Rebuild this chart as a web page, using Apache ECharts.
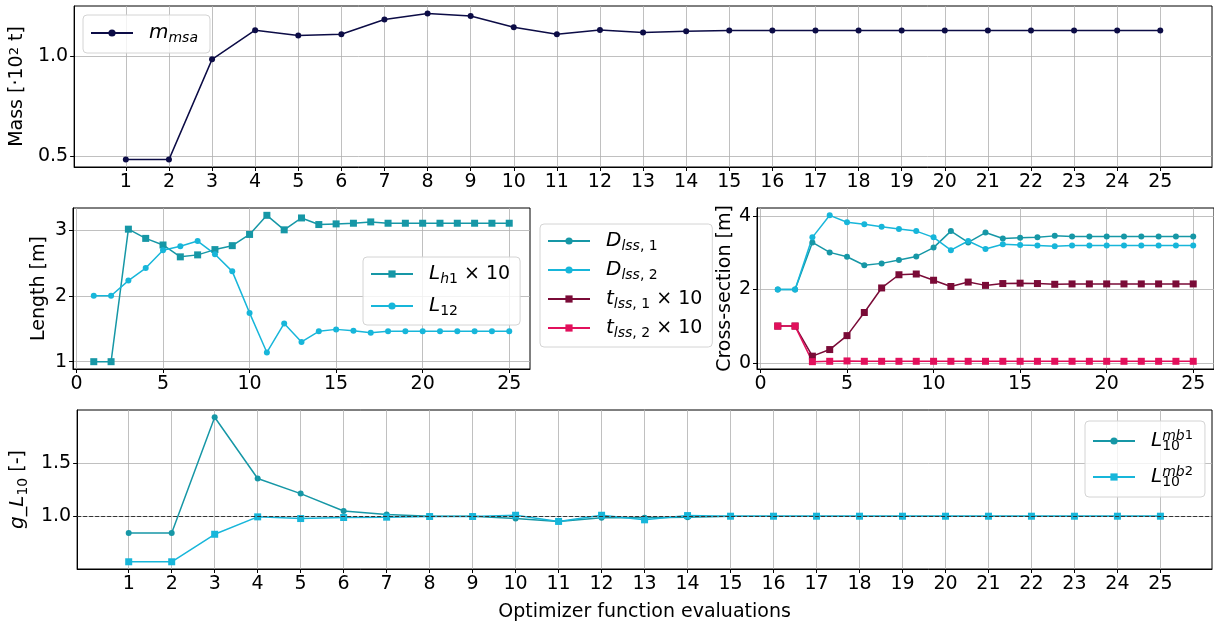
<!DOCTYPE html>
<html><head><meta charset="utf-8">
<script src="https://cdn.jsdelivr.net/npm/echarts@6/dist/echarts.min.js"></script>
<style>html,body{margin:0;padding:0;background:#fff}#c{width:1214px;height:623px}</style>
</head><body><div id="c"></div><script>
// ---- data ----
const evals = [1,2,3,4,5,6,7,8,9,10,11,12,13,14,15,16,17,18,19,20,21,22,23,24,25];
const mMsa = [0.483,0.483,0.985,1.131,1.104,1.111,1.184,1.215,1.202,1.146,1.111,1.132,1.119,1.126,1.129,1.129,1.129,1.129,1.129,1.129,1.129,1.129,1.129,1.129,1.129];
const lH1x10 = [1.0,1.0,3.01,2.87,2.77,2.59,2.62,2.70,2.76,2.93,3.22,3.00,3.18,3.08,3.09,3.10,3.12,3.10,3.10,3.10,3.10,3.10,3.10,3.10,3.10];
const l12 = [2.0,2.0,2.23,2.42,2.69,2.75,2.83,2.63,2.37,1.74,1.14,1.58,1.30,1.46,1.49,1.47,1.44,1.46,1.46,1.46,1.46,1.46,1.46,1.46,1.46];
const dLss1 = [2.0,2.0,3.28,3.01,2.89,2.66,2.71,2.80,2.90,3.14,3.59,3.28,3.55,3.39,3.41,3.42,3.46,3.44,3.44,3.44,3.44,3.44,3.44,3.44,3.44];
const dLss2 = [2.0,2.0,3.42,4.02,3.83,3.78,3.71,3.65,3.59,3.42,3.07,3.32,3.10,3.23,3.21,3.20,3.18,3.20,3.20,3.20,3.20,3.20,3.20,3.20,3.20];
const tLss1x10 = [1.0,1.0,0.18,0.36,0.74,1.37,2.04,2.40,2.42,2.25,2.08,2.20,2.11,2.16,2.17,2.16,2.14,2.15,2.15,2.15,2.15,2.15,2.15,2.15,2.15];
const tLss2x10 = [1.0,1.0,0.03,0.04,0.05,0.04,0.04,0.04,0.04,0.04,0.04,0.04,0.04,0.04,0.04,0.04,0.04,0.04,0.04,0.04,0.04,0.04,0.04,0.04,0.04];
const l10mb1 = [0.843,0.843,1.932,1.355,1.213,1.049,1.015,1.000,1.000,0.978,0.951,0.985,0.985,0.990,1.0,1.0,1.0,1.0,1.0,1.0,1.0,1.0,1.0,1.0,1.0];
const l10mb2 = [0.571,0.571,0.830,0.994,0.978,0.988,0.991,0.997,0.997,1.009,0.951,1.009,0.966,1.006,1.0,1.0,1.0,1.0,1.0,1.0,1.0,1.0,1.0,1.0,1.0];
const evalTicks = evals;
const midXTicks = [0,5,10,15,20,25];
const massTicks = [0.5,1.0];
const lengthTicks = [1,2,3];
const crossTicks = [0,2,4];
const gTicks = [1.0,1.5];
const gRef = 1.0;

// ---- styles ----
const FONT = 'DejaVu Sans';
const FS = 19;
const C = {navy:'#0c0c46', teal:'#1697a6', light:'#17b6da', maroon:'#7a0b37', pink:'#e2105c'};
const rich = {
  i:{fontFamily:FONT,fontStyle:'italic',fontSize:20,color:'#000',lineHeight:24},
  n:{fontFamily:FONT,fontSize:19,color:'#000',lineHeight:24},
  sub:{fontFamily:FONT,fontStyle:'italic',fontSize:14,color:'#000',lineHeight:14,verticalAlign:'bottom'},
  subn:{fontFamily:FONT,fontSize:14,color:'#000',lineHeight:14,verticalAlign:'bottom'},
  sub0:{fontFamily:FONT,fontSize:14,color:'#000',lineHeight:14,verticalAlign:'bottom',width:0},
  sup:{fontFamily:FONT,fontStyle:'italic',fontSize:14,color:'#000',lineHeight:14,verticalAlign:'top'},
  supn:{fontFamily:FONT,fontSize:13,color:'#000',lineHeight:14,verticalAlign:'top'}
};
const labels = {
  m_msa:'{i|m}{sub|msa}',
  L_h1:'{i|L}{sub|h}{subn|1}{n| × 10}',
  L_12:'{i|L}{subn|12}',
  D_lss1:'{i|D}{sub|lss}{subn|, 1}',
  D_lss2:'{i|D}{sub|lss}{subn|, 2}',
  t_lss1:'{i|t}{sub|lss}{subn|, 1}{n| × 10}',
  t_lss2:'{i|t}{sub|lss}{subn|, 2}{n| × 10}',
  L10_mb1:'{i|L}{sub0|10}{sup|mb}{supn|1}',
  L10_mb2:'{i|L}{sub0|10}{sup|mb}{supn|2}'
};

function xAx(gi, ticks){
  return {type:'value',gridIndex:gi,min:-0.2,max:26.2,
    axisLine:{show:true,onZero:false,lineStyle:{color:'#000',width:1}},
    axisTick:{show:true,customValues:ticks,length:4,lineStyle:{color:'#000',width:1}},
    axisLabel:{customValues:ticks,color:'#000',fontSize:FS,fontFamily:FONT,margin:6},
    splitLine:{show:true,lineStyle:{color:'#b0b0b0',width:0.8}}};
}
function yAx(gi, min, max, ticks, dec, name, gap){
  return {type:'value',gridIndex:gi,min:min,max:max,
    name:name,nameLocation:'middle',nameRotate:90,nameGap:gap,
    nameTextStyle:{fontFamily:FONT,fontSize:FS,color:'#000',rich:rich},
    axisLine:{show:true,onZero:false,lineStyle:{color:'#000',width:1}},
    axisTick:{show:true,customValues:ticks,length:4,lineStyle:{color:'#000',width:1}},
    axisLabel:{customValues:ticks,color:'#000',fontSize:FS,fontFamily:FONT,margin:6,
      formatter:v=>dec?v.toFixed(dec):String(v)},
    splitLine:{show:true,lineStyle:{color:'#b0b0b0',width:0.8}}};
}
function pts(arr){ return evals.map((x,i)=>[x,arr[i]]); }
function ser(name, arr, gi, color, sym){
  return {name:name,type:'line',xAxisIndex:gi,yAxisIndex:gi,data:pts(arr),
    symbol:sym,symbolSize:sym==='rect'?7:6,showSymbol:true,
    lineStyle:{color:color,width:1.5},itemStyle:{color:color},
    emphasis:{disabled:true},animation:false};
}
function leg(data, left, top, gap, pad){
  return {data:data,orient:'vertical',left:left,top:top,
    itemWidth:42,itemHeight:9,itemGap:gap,
    padding:pad || [7,10,7,7],
    backgroundColor:'rgba(255,255,255,0.8)',borderColor:'#d4d4d4',borderWidth:1,borderRadius:4,
    selectedMode:false,
    formatter:n=>labels[n],
    textStyle:{fontFamily:FONT,fontSize:19,color:'#000',rich:rich,padding:[0,0,0,11]}};
}

const grid = [
  {left:72,top:6,width:1140,height:161},
  {left:73,top:208,width:457,height:161},
  {left:757,top:208,width:457,height:161},
  {left:72,top:410,width:1140,height:162}
].map(g=>Object.assign(g,{show:true,borderColor:'#000',borderWidth:1,backgroundColor:'transparent'}));

const xb = xAx(3, evalTicks);
xb.name = 'Optimizer function evaluations';
xb.nameLocation = 'middle';
xb.nameGap = 34;
xb.nameTextStyle = {fontFamily:FONT,fontSize:FS,color:'#000'};

const s9 = ser('L10_mb1', l10mb1, 3, C.teal, 'circle');
s9.markLine = {silent:true,symbol:'none',label:{show:false},animation:false,
  lineStyle:{color:'#333',type:[4,2],width:1},data:[{yAxis:gRef}]};

const option = {
  animation:false,
  backgroundColor:'#fff',
  grid:grid,
  xAxis:[xAx(0, evalTicks), xAx(1, midXTicks), xAx(2, midXTicks), xb],
  yAxis:[
    yAx(0, 0.446, 1.252, massTicks, 1, 'Mass [·10{supn|2} t]', 40),
    yAx(1, 0.889, 3.331, lengthTicks, 0, 'Length [m]', 24),
    yAx(2, -0.17, 4.22, crossTicks, 0, 'Cross-section [m]', 22),
    yAx(3, 0.503, 2.0, gTicks, 1, '{i|g}{n|_}{i|L}{subn|10}{n| [-]}', 39)
  ],
  legend:[
    leg(['m_msa'], 83, 15, 10, [8,12,8,7]),
    leg(['L_h1','L_12'], 363, 257, 10),
    leg(['D_lss1','D_lss2','t_lss1','t_lss2'], 540, 224, 7),
    leg(['L10_mb1','L10_mb2'], 1085, 421, 12, [8,12,8,7])
  ],
  series:[
    ser('m_msa', mMsa, 0, C.navy, 'circle'),
    ser('L_h1', lH1x10, 1, C.teal, 'rect'),
    ser('L_12', l12, 1, C.light, 'circle'),
    ser('D_lss1', dLss1, 2, C.teal, 'circle'),
    ser('D_lss2', dLss2, 2, C.light, 'circle'),
    ser('t_lss1', tLss1x10, 2, C.maroon, 'rect'),
    ser('t_lss2', tLss2x10, 2, C.pink, 'rect'),
    s9,
    ser('L10_mb2', l10mb2, 3, C.light, 'rect')
  ]
};
const chart = echarts.init(document.getElementById('c'), null, {renderer:'canvas'});
chart.setOption(option);
</script></body></html>
